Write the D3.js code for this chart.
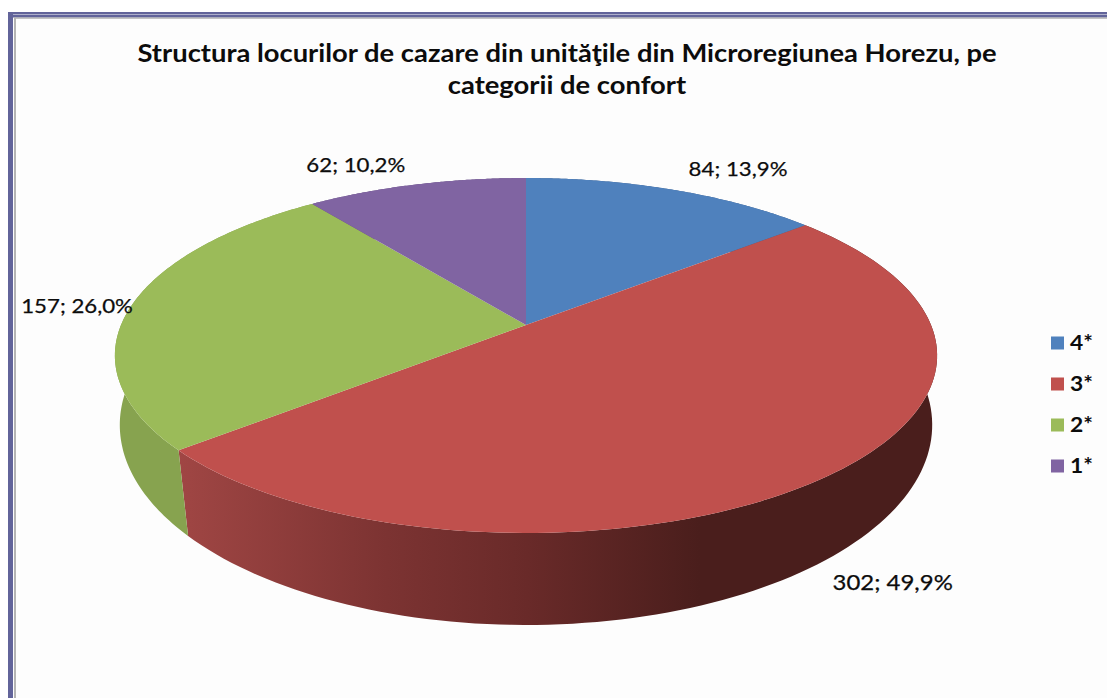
<!DOCTYPE html>
<html><head><meta charset="utf-8">
<script src="https://cdn.jsdelivr.net/npm/d3@7"></script>
<style>html,body{margin:0;padding:0;background:#fff}svg{display:block}text{font-family:Lato,"Open Sans",sans-serif;fill:#0c0c0c}</style>
</head><body><svg id="c" width="1107" height="698"></svg>
<script>
const titleLines = ["Structura locurilor de cazare din unităţile din Microregiunea Horezu, pe", "categorii de confort"];
const categories = ["4*", "3*", "2*", "1*"];
const values = [84, 302, 157, 62];
const colors = ["#4f81bd", "#c0504d", "#9bbb59", "#8064a2"];
const labelOffsets = [[64, -21], [66, 106], [-54, 0], [-60, -20]];
const labelSizes = [19.5, 21, 19.5, 19.5];

const W = 1107, H = 698;
const svg = d3.select("#c");
svg.append("rect").attr("width", W).attr("height", H).attr("fill", "#fdfdfd");
svg.append("rect").attr("y", 0).attr("width", W).attr("height", 12).attr("fill", "#fff");
svg.append("rect").attr("width", 8).attr("height", H).attr("fill", "#fff");
const frame = "#62649a";
[[8, 12, W - 8, 2.5], [8, 15, W - 8, 2.5], [8, 12, 5, H - 12]].forEach(r =>
  svg.append("rect").attr("x", r[0]).attr("y", r[1]).attr("width", r[2]).attr("height", r[3]).attr("fill", frame));
svg.append("rect").attr("x", 14).attr("y", 17.5).attr("width", W - 14).attr("height", 1.2).attr("fill", "#aaa");
svg.append("rect").attr("x", 14).attr("y", 17.5).attr("width", 2).attr("height", H).attr("fill", "#b4b4b4");

// perspective projection of the pie disc (top face and bottom face)
const cx = 526, cy = 325;
const project = (k, persp, a, b) => ang => {
  const u = Math.sin(ang), v = -Math.cos(ang), w = 1 + persp * v;
  return [cx + k * u / w, (a * v + b) / w];
};
const topRim = project(405, -0.1718, 116.4, cy);
const bottomRim = project(402, -0.1435, 139, 396.3);

const pie = d3.pie().sort(null)(values);
const total = d3.sum(values);
const fmt = d3.formatLocale({decimal: ",", thousands: ".", grouping: [3], currency: ["", ""]}).format(".1%");
const line = d3.line();
const samples = (s, e) => d3.range(0, 121).map(i => s + (e - s) * i / 120);

const defs = svg.append("defs");
const redGrad = defs.append("linearGradient").attr("id", "wall1").attr("gradientUnits", "userSpaceOnUse")
  .attr("x1", 178).attr("x2", 700).attr("y1", 0).attr("y2", 0);
[[0, "#a04644"], [0.4, "#7c3332"], [0.67, "#692a29"], [1, "#4a1e1c"]].forEach(s =>
  redGrad.append("stop").attr("offset", s[0]).attr("stop-color", s[1]));
const wallFill = ["#3f5f8a", "url(#wall1)", "#87a34f", "#64507f"];

pie.forEach((d, i) => {
  const ang = samples(d.startAngle, d.endAngle);
  const pts = ang.map(topRim).concat(ang.map(bottomRim).reverse());
  svg.append("path").attr("d", line(pts) + "Z").attr("fill", wallFill[i]);
});
pie.forEach((d, i) => {
  const pts = [[cx, cy]].concat(samples(d.startAngle, d.endAngle).map(topRim));
  svg.append("path").attr("d", line(pts) + "Z").attr("fill", colors[i]);
});

// the reference is horizontally stretched; text is widened by the same factor
const stretch = 1.14;
const widen = sel => sel.attr("lengthAdjust", "spacingAndGlyphs")
  .attr("textLength", sel.node().getComputedTextLength() * stretch);

pie.forEach((d, i) => {
  const p = topRim((d.startAngle + d.endAngle) / 2);
  svg.append("text").attr("x", p[0] + labelOffsets[i][0]).attr("y", p[1] + labelOffsets[i][1] + 7)
    .attr("text-anchor", "middle").attr("font-size", labelSizes[i])
    .attr("stroke", "#0c0c0c").attr("stroke-width", 0.25)
    .text(`${values[i]}; ${fmt(values[i] / total)}`).call(widen);
});

titleLines.forEach((t, i) => {
  svg.append("text").attr("x", 567).attr("y", 62 + i * 32).attr("text-anchor", "middle")
    .attr("font-size", 24).attr("font-weight", 700).text(t).call(widen);
});

const legendY = d3.scalePoint().domain(categories).range([343, 466]);
categories.forEach((c, i) => {
  svg.append("rect").attr("x", 1051).attr("y", legendY(c) - 6.5).attr("width", 13).attr("height", 13).attr("fill", colors[i]);
  svg.append("text").attr("x", 1070).attr("y", legendY(c) + 7).attr("font-size", 20).attr("font-weight", 700).text(c).call(widen);
});
</script></body></html>
